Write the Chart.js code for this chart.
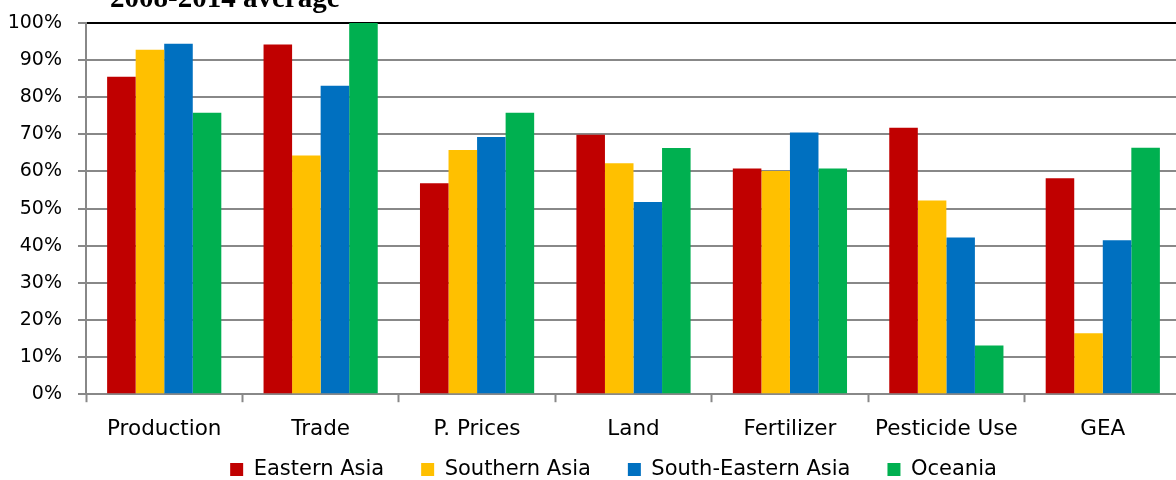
<!DOCTYPE html>
<html>
<head>
<meta charset="utf-8">
<script src="https://cdn.jsdelivr.net/npm/chart.js@4.4.1/dist/chart.umd.min.js"></script>
<style>
  html, body { margin: 0; padding: 0; overflow: hidden; background: #fff; width: 1176px; height: 480px; }
  #wrap { position: relative; width: 1190px; height: 524px; }
  #title { position: absolute; left: 110px; top: -16px; font-family: "Liberation Serif", serif; font-weight: bold; font-size: 29px; line-height: 26px; color: #000; white-space: nowrap; }
  canvas { position: absolute; left: 0; top: 0; }
</style>
</head>
<body>
<div id="wrap">
  <canvas id="c" width="1190" height="524" style="width:1190px;height:524px"></canvas>
  <div id="title">2008-2014 average</div>
</div>
<script>
const categories = ["Production", "Trade", "P. Prices", "Land", "Fertilizer", "Pesticide Use", "GEA"];
const seriesNames = ["Eastern Asia", "Southern Asia", "South-Eastern Asia", "Oceania"];
const easternAsia      = [85.5, 94.2, 56.8, 69.9, 60.8, 71.8, 58.2];
const southernAsia     = [92.8, 64.3, 65.8, 62.2, 60.1, 52.2, 16.4];
const southEasternAsia = [94.4, 83.1, 69.3, 51.8, 70.5, 42.2, 41.5];
const oceania          = [75.8, 100.0, 75.8, 66.3, 60.8, 13.1, 66.4];
const yTicks = [0, 10, 20, 30, 40, 50, 60, 70, 80, 90, 100];
const colors = ["#C00000", "#FFC000", "#0070C0", "#00B050"];

const FONT = "DejaVu Sans";
const allSeries = [easternAsia, southernAsia, southEasternAsia, oceania];

// shift the legend box (layout only) so it sits like the reference
const legendShift = {
  id: "legendShift",
  afterLayout(chart) {
    const lg = chart.legend;
    if (!lg) return;
    const dx = 23, dy = -34;
    lg.left += dx; lg.right += dx;
    lg.top += dy; lg.bottom += dy;
  }
};

new Chart(document.getElementById("c"), {
  type: "bar",
  data: {
    labels: categories,
    datasets: allSeries.map((d, i) => ({
      label: seriesNames[i],
      data: d,
      backgroundColor: colors[i],
      borderWidth: 0,
      categoryPercentage: 0.73,
      barPercentage: 1.0
    }))
  },
  plugins: [legendShift],
  options: {
    responsive: false,
    animation: false,
    devicePixelRatio: 1,
    layout: { padding: { top: 23, right: 9, left: 0, bottom: 0 } },
    plugins: {
      title: { display: false },
      tooltip: { enabled: false },
      legend: {
        position: "bottom",
        labels: {
          boxWidth: 13,
          boxHeight: 13,
          padding: 37,
          color: "#000",
          font: { family: FONT, size: 21 }
        }
      }
    },
    scales: {
      x: {
        offset: true,
        grid: {
          offset: true,
          drawOnChartArea: false,
          drawTicks: true,
          tickLength: 8,
          tickColor: "#888888",
          tickWidth: 2
        },
        border: { color: "#888888", width: 2 },
        ticks: { color: "#000", padding: 14, font: { family: FONT, size: 21.5 }, maxRotation: 0 }
      },
      y: {
        min: 0,
        max: 100,
        afterBuildTicks: (axis) => { axis.ticks = yTicks.map(v => ({ value: v })); },
        grid: {
          color: (ctx) => (ctx.tick && ctx.tick.value === 100) ? "#000000" : "#888888",
          lineWidth: 2,
          tickLength: 8,
          tickColor: "#888888",
          tickWidth: 2
        },
        border: { color: "#888888", width: 2 },
        ticks: {
          color: "#000",
          padding: 16,
          font: { family: FONT, size: 19 },
          callback: (v) => v + "%"
        },
        afterFit: (axis) => { axis.width = 86; axis.paddingTop = 0; axis.paddingBottom = 0; }
      }
    }
  }
});
</script>
</body>
</html>
